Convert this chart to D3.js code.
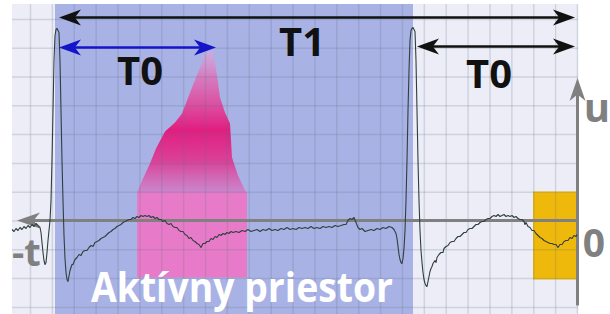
<!DOCTYPE html>
<html lang="sk">
<head>
<meta charset="UTF-8">
<title>Aktívny priestor</title>
<script src="https://d3js.org/d3.v7.min.js"></script>
<style>
    body { margin: 0; background: #fff; }
    svg { display: block; }
    text { font-family: "Open Sans", sans-serif; font-weight: 700; }
</style>
</head>
<body>
<svg id="chart" width="610" height="314"></svg>
<script>
// signal samples: [t, u]  (t = time samples, u = amplitude)
const trace = [
    [-18,-9],[-16,-11],[-14,-8],[-12,-10],[-10,-7],[-8,-9],[-6,-6],[-4,-8],[-2,-5],[0,-7],[2,-4],[4,-6],[6,-3],[8,-5],[10,-7],
    [11,-12],[12,-22],[13,-32],[14,-40],[15,-44],[16,-42],[17,-32],[18,-20],[20,0],[21,20],[22,60],[23,110],[24,160],[25,185],
    [26,191],[27,192],[28,190],[29,188],[30,160],[31,110],[32,60],[33,20],[34,-15],[35,-38],[36,-52],[37,-59],[38,-61],
    [40,-50],[42,-44],[43,-44],[45,-39],[47,-37],[49,-34],[51,-35],[53,-31],[55,-30],[57,-30],[59,-27],[61,-25],[63,-26],
    [65,-22],[67,-21],[69,-20],[71,-18],[73,-17],[75,-16],[77,-14],[79,-12],[81,-11],[83,-9],[85,-8],[87,-6],[89,-5],
    [91,-4],[93,-2],[95,-1],[97,0],[99,1],[101,1],[103,3],[105,2],[107,4],[109,3],[111,5],[113,4],[115,5],[117,4],[119,5],
    [121,3],[123,4],[125,2],[127,3],[129,1],[131,1],[133,-1],[135,0],[137,-3],[139,-4],[141,-3],[143,-6],[145,-7],[147,-7],
    [149,-10],[151,-11],[153,-11],[155,-14],[157,-15],[159,-18],[161,-17],[163,-20],[165,-21],[167,-23],[169,-24],[171,-27],
    [173,-23],[175,-23],[177,-21],[179,-21],[181,-18],[183,-19],[185,-16],[187,-17],[189,-14],[191,-15],[193,-13],[195,-14],
    [197,-12],[199,-13],[201,-11],[203,-12],[206,-11],[209,-12],[212,-10],[215,-11],[218,-9],[221,-11],[224,-10],[227,-9],
    [230,-11],[233,-9],[236,-10],[239,-8],[242,-10],[245,-9],[248,-10],[251,-8],[254,-9],[257,-7],[260,-9],[263,-8],[266,-9],
    [269,-7],[272,-8],[275,-7],[278,-8],[281,-6],[284,-8],[287,-7],[290,-8],[293,-6],[296,-7],[299,-6],[302,-7],[305,-5],
    [308,-6],[311,-5],[314,-4],[316,-4],[318,0],[320,2],[322,1],[324,3],[326,-2],[328,-7],[330,-9],[332,-8],[335,-11],
    [338,-10],[341,-9],[344,-10],[347,-8],[350,-9],[353,-7],[356,-8],[359,-6],[362,-7],[364,-9],[366,-13],[367,-18],[368,-26],
    [369,-34],[370,-39],[371,-42],[372,-43],[373,-38],[374,-28],[375,-10],[376,20],[377,60],[378,110],[379,150],[380,180],
    [381,190],[382,192],[383,193],[384,191],[385,189],[386,160],[387,110],[388,60],[389,20],[390,-10],[391,-30],[392,-42],
    [393,-52],[394,-59],[395,-63],[396,-65],[397,-66],[398,-61],[399,-56],[400,-51],[401,-48],[402,-46],[403,-43],[405,-40],
    [406,-42],[407,-37],[409,-34],[411,-32],[413,-32],[414,-28],[416,-26],[418,-25],[420,-22],[422,-21],[424,-21],[426,-18],
    [428,-16],[430,-16],[432,-14],[434,-12],[436,-12],[438,-9],[440,-8],[442,-8],[444,-6],[446,-4],[448,-4],[450,-2],
    [452,-1],[454,-1],[456,1],[458,2],[460,2],[462,4],[464,5],[466,4],[468,6],[470,4],[472,5],[474,6],[476,4],[478,5],
    [480,4],[482,5],[484,3],[486,4],[488,2],[490,1],[492,1],[494,-1],[495,-4],[496,-2],[498,-6],[500,-7],[502,-10],
    [504,-10],[506,-13],[508,-15],[510,-17],[512,-18],[514,-20],[516,-21],[518,-22],[520,-23],[522,-23],[524,-24],[526,-24],
    [528,-27],[530,-24],[532,-24],[534,-21],[536,-20],[538,-20],[540,-17],[542,-18],[544,-15],[546,-16],[547,-14]
];

// pink "peak" outline above the marked window
const peakShape = [
    [175,168],[183,170],[185,158],[187,145],[190,123],[195,108],[200,97],[201,80],[202,63],[208,45],[216,28],
    [107,28],[113,42],[120,57],[126,72],[135,89],[145,98],[152,107],[157,120],[162,133],[168,148],[173,160]
];

// time spans [start, end] and amplitude spans [low, high]
const panelT = [-18, 548], panelU = [-94, 216.5];
const activeT = [25, 383];
const pinkT = [107, 217], pinkU = [-57, 29];
const orangeT = [503, 547], orangeU = [-59, 29];

// dimension arrows: [t1, t2, u]
const arrowT1 = [29, 545, 203];
const arrowT0a = [29, 186, 173];
const arrowT0b = [387, 545, 174];

const gridT = d3.range(0, 26).map(k => k * 21.88);
const gridU = d3.range(-3, 8).map(k => k * 28.8);

const svg = d3.select("#chart");
const x = d3.scaleLinear().domain([0, 547]).range([30, 577]);
const y = d3.scaleLinear().domain([0, 200]).range([220.5, 20.5]);

const defs = svg.append("defs");
const grad = defs.append("linearGradient").attr("id", "peakGrad")
    .attr("gradientUnits", "userSpaceOnUse")
    .attr("x1", 0).attr("x2", 0).attr("y1", y(170)).attr("y2", y(28));
[[0, "#e8a4d8", 0.5], [0.18, "#e070b8", 0.8], [0.56, "#e01e80", 1], [0.78, "#dc3c94", 0.95], [1, "#d27cc6", 0.8]]
    .forEach(s => grad.append("stop").attr("offset", s[0]).attr("stop-color", s[1]).attr("stop-opacity", s[2]));

const rectT = (t, u, fill) => svg.append("rect")
    .attr("x", x(t[0])).attr("width", x(t[1]) - x(t[0]))
    .attr("y", y(u[1])).attr("height", y(u[0]) - y(u[1]))
    .attr("fill", fill);

// background panel and areas
rectT(panelT, panelU, "#ecedf7");
rectT(activeT, panelU, "#a9b2e5");
rectT(pinkT, pinkU, "#e87bc9");
svg.append("path")
    .attr("d", d3.line().x(d => x(d[0])).y(d => y(d[1]))(peakShape) + "Z")
    .attr("fill", "url(#peakGrad)");
rectT(orangeT, orangeU, "#efb90b");

// grid
const gridStyle = g => {
    g.select(".domain").remove();
    g.selectAll("line").attr("stroke", "rgb(95,110,125)").attr("stroke-opacity", 0.2).attr("stroke-width", 1.5);
};
svg.append("g").attr("transform", `translate(0,${y(panelU[1])})`)
    .call(d3.axisTop(x).tickValues(gridT).tickFormat("").tickSize(-(y(panelU[0]) - y(panelU[1]))))
    .call(gridStyle);
svg.append("g").attr("transform", `translate(${x(panelT[0])},0)`)
    .call(d3.axisLeft(y).tickValues(gridU).tickFormat("").tickSize(-(x(panelT[1]) - x(panelT[0]))))
    .call(gridStyle);

// arrowhead helper, tip at (px,py), pointing in direction angle (deg)
function head(px, py, angle, color, len, half) {
    svg.append("path")
        .attr("d", `M0,0L${-len},${-half}L${-len * 0.72},0L${-len},${half}Z`)
        .attr("transform", `translate(${px},${py}) rotate(${angle})`)
        .attr("fill", color);
}

// axes
const axisColor = "#808080";
svg.append("line")
    .attr("x1", x(-8)).attr("x2", x(547)).attr("y1", y(0)).attr("y2", y(0))
    .attr("stroke", axisColor).attr("stroke-width", 3);
head(x(-13), y(0), 180, axisColor, 23, 8);
svg.append("line")
    .attr("x1", x(547.5)).attr("x2", x(547.5)).attr("y1", y(-85)).attr("y2", y(130))
    .attr("stroke", axisColor).attr("stroke-width", 3);
head(x(547.5), y(142.5), -90, axisColor, 23, 8);

// signal
svg.append("path")
    .datum(trace)
    .attr("d", d3.line().x(d => x(d[0])).y(d => y(d[1])))
    .attr("fill", "none")
    .attr("stroke", "#2f3f3c")
    .attr("stroke-width", 1.1)
    .attr("stroke-linejoin", "round");

// dimension arrows
function dimArrow(a, color) {
    const x1 = x(a[0]), x2 = x(a[1]), yy = y(a[2]);
    svg.append("line")
        .attr("x1", x1 + 14).attr("x2", x2 - 14).attr("y1", yy).attr("y2", yy)
        .attr("stroke", color).attr("stroke-width", 2.6);
    head(x1, yy, 180, color, 22, 8);
    head(x2, yy, 0, color, 22, 8);
}
dimArrow(arrowT1, "#111");
dimArrow(arrowT0a, "#1414c8");
dimArrow(arrowT0b, "#111");

// labels
const label = (txt, px, py, size, color, anchor) => svg.append("text")
    .attr("x", px).attr("y", py)
    .attr("font-size", size).attr("fill", color)
    .attr("text-anchor", anchor || "middle")
    .text(txt);

label("T1", 302, 56, 40, "#111");
label("T0", 140, 85, 40, "#111");
label("T0", 489, 88, 40, "#111");
label("u", 597, 122, 40, axisColor);
label("0", 594, 257, 39, axisColor);
label("-t", 12, 266, 38, axisColor, "start");
label("Aktívny priestor", 91, 302, 41, "#fff", "start")
    .attr("textLength", 302).attr("lengthAdjust", "spacingAndGlyphs");
</script>
</body>
</html>
